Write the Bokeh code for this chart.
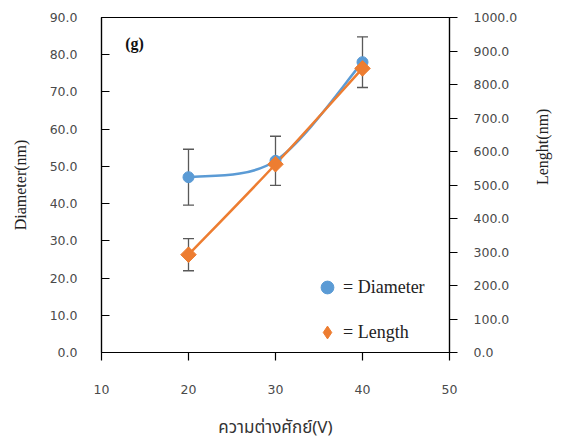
import numpy as np
from bokeh.plotting import figure
from bokeh.models import (Range1d, LinearAxis, FixedTicker, PrintfTickFormatter,
                          ColumnDataSource, Whisker, TeeHead, Legend, LegendItem, Label)
from bokeh.embed import file_html
from bokeh.resources import INLINE

# ---- data ----
voltage = [20, 30, 40]
diameter = [47.1, 51.5, 78.0]
diameter_err = [7.5, 6.6, 6.8]
length = [292, 562, 848]
length_err = [48, 0, 0]
x_ticks = [10, 20, 30, 40, 50]
left_ticks = [0, 10, 20, 30, 40, 50, 60, 70, 80, 90]
right_ticks = [0, 100, 200, 300, 400, 500, 600, 700, 800, 900, 1000]

BLUE = "#5B9BD5"
ORANGE = "#ED7D31"
ERR = "#595959"
TICKFONT = "DejaVu Sans"
SERIF = "Liberation Serif"
THAI = "Tahoma, Noto Sans Thai, Loma, Garuda, DejaVu Sans"

p = figure(width=562, height=443, output_backend="svg", toolbar_location=None,
           x_range=Range1d(10, 50), y_range=Range1d(0, 90),
           min_border_left=101, min_border_right=113, min_border_top=17,
           min_border_bottom=90, x_axis_location="below", y_axis_location="left")
p.extra_y_ranges = {"len": Range1d(0, 1000)}
p.grid.visible = False
p.outline_line_color = "black"
p.outline_line_width = 1.2
p.background_fill_color = "white"
p.border_fill_color = "white"


def smooth(xs, ys):
    """Excel-like smoothed line: cubic bezier segments with Catmull-Rom controls."""
    xs = np.asarray(xs, float)
    ys = np.asarray(ys, float)
    n = len(xs)
    out = dict(x0=[], y0=[], x1=[], y1=[], cx0=[], cy0=[], cx1=[], cy1=[])
    for i in range(n - 1):
        im = max(i - 1, 0)
        ip = min(i + 2, n - 1)
        out["x0"].append(xs[i]); out["y0"].append(ys[i])
        out["x1"].append(xs[i + 1]); out["y1"].append(ys[i + 1])
        out["cx0"].append(xs[i] + (xs[i + 1] - xs[im]) / 6)
        out["cy0"].append(ys[i] + (ys[i + 1] - ys[im]) / 6)
        out["cx1"].append(xs[i + 1] - (xs[ip] - xs[i]) / 6)
        out["cy1"].append(ys[i + 1] - (ys[ip] - ys[i]) / 6)
    return ColumnDataSource(out)


# lines
p.bezier(x0="x0", y0="y0", x1="x1", y1="y1", cx0="cx0", cy0="cy0", cx1="cx1", cy1="cy1",
         source=smooth(voltage, diameter), line_color=BLUE, line_width=2.5)
p.bezier(x0="x0", y0="y0", x1="x1", y1="y1", cx0="cx0", cy0="cy0", cx1="cx1", cy1="cy1",
         source=smooth(voltage, length), line_color=ORANGE, line_width=2.5, y_range_name="len")

# error bars
dsrc = ColumnDataSource(dict(x=voltage, y=diameter,
                             lo=[d - e for d, e in zip(diameter, diameter_err)],
                             hi=[d + e for d, e in zip(diameter, diameter_err)]))
lsrc = ColumnDataSource(dict(x=voltage, y=length,
                             lo=[d - e for d, e in zip(length, length_err)],
                             hi=[d + e for d, e in zip(length, length_err)]))
for src, rn in ((dsrc, "default"), (lsrc, "len")):
    w = Whisker(base="x", lower="lo", upper="hi", source=src, dimension="height",
                line_color=ERR, line_width=1.3, y_range_name=rn,
                upper_head=TeeHead(size=11, line_color=ERR, line_width=1.3),
                lower_head=TeeHead(size=11, line_color=ERR, line_width=1.3))
    p.add_layout(w)

# markers
r_d = p.scatter("x", "y", source=dsrc, marker="circle", size=11,
                fill_color=BLUE, line_color=BLUE)
# diamond glyph (used by the legend; legend ignores marker angle), covered by the
# rotated square drawn on top of it at the same points
r_l_key = p.scatter("x", "y", source=lsrc, marker="diamond", size=15,
                    fill_color=ORANGE, line_color=ORANGE, y_range_name="len")
r_l = p.scatter("x", "y", source=lsrc, marker="square", size=11, angle=np.pi / 4,
                fill_color=ORANGE, line_color=ORANGE, y_range_name="len")

# axes
xa = p.xaxis[0]
xa.ticker = FixedTicker(ticks=x_ticks)
xa.major_tick_out = 8
xa.major_tick_in = 0
xa.minor_tick_out = 0
xa.minor_tick_in = 0
xa.major_label_standoff = 24
xa.axis_label = "ความต่างศักย์(V)"
xa.axis_label_text_font = THAI
xa.axis_label_text_font_style = "normal"
xa.axis_label_text_font_size = "17px"
xa.axis_label_text_color = "#333333"
xa.axis_label_standoff = 18

ya = p.yaxis[0]
ya.ticker = FixedTicker(ticks=left_ticks)
ya.formatter = PrintfTickFormatter(format="%.1f")
ya.major_tick_in = 8
ya.major_tick_out = 0
ya.minor_tick_out = 0
ya.minor_tick_in = 0
ya.major_label_standoff = 24
ya.axis_label = "Diameter(nm)"
ya.axis_label_text_font = SERIF
ya.axis_label_text_font_style = "normal"
ya.axis_label_text_font_size = "16px"
ya.axis_label_text_color = "#222222"
ya.axis_label_standoff = 18

ra = LinearAxis(y_range_name="len", ticker=FixedTicker(ticks=right_ticks),
                formatter=PrintfTickFormatter(format="%.1f"))
ra.major_tick_out = 8
ra.major_tick_in = 0
ra.minor_tick_out = 0
ra.minor_tick_in = 0
ra.major_label_standoff = 16
ra.axis_label = "Lenght(nm)"
ra.axis_label_orientation = np.pi / 2
ra.axis_label_text_font = SERIF
ra.axis_label_text_font_style = "normal"
ra.axis_label_text_font_size = "16px"
ra.axis_label_text_color = "#222222"
ra.axis_label_standoff = 22
p.add_layout(ra, "right")

for ax in (xa, ya, ra):
    ax.axis_line_color = "black"
    ax.axis_line_width = 1.2
    ax.major_tick_line_color = "black"
    ax.major_tick_line_width = 1.2
    ax.major_label_text_font = TICKFONT
    ax.major_label_text_font_size = "12.5px"
    ax.major_label_text_color = "#4a4a4a"

# legend
legend = Legend(items=[LegendItem(label="= Diameter", renderers=[r_d]),
                       LegendItem(label="= Length", renderers=[r_l_key])],
                location=(210, 4), orientation="vertical",
                border_line_color=None, background_fill_alpha=0,
                padding=0, margin=0, spacing=13, glyph_width=32, glyph_height=32,
                label_height=32, label_standoff=0,
                label_text_font=SERIF, label_text_font_size="18px",
                label_text_color="#222222")
p.add_layout(legend)

# panel tag
p.add_layout(Label(x=13.8, y=83, text="(g)", text_align="center", text_baseline="middle",
                   text_font=SERIF, text_font_style="bold", text_font_size="16px",
                   text_color="#111111"))

open("out.html", "w").write(file_html(p, INLINE))
